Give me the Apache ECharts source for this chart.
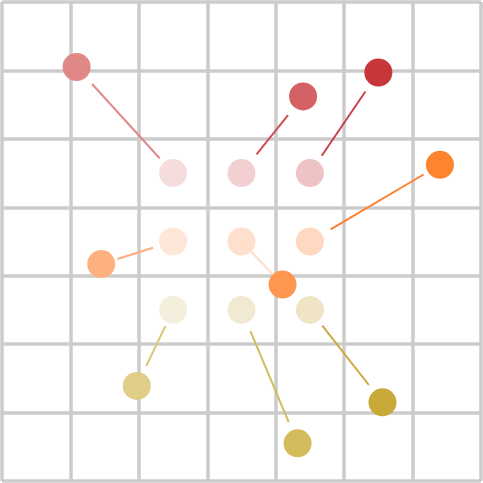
<!DOCTYPE html>
<html><head><meta charset="utf-8">
<script src="https://cdn.jsdelivr.net/npm/echarts@6/dist/echarts.min.js"></script>
<style>html,body{margin:0;padding:0;background:#fff}#c{width:483px;height:483px}</style>
</head><body><div id="c"></div>
<script>
// ---- data ----
const groups = ['red', 'orange', 'yellow'];
const originX = [2.5, 3.5, 4.5];          // column of each start point
const originY = [2.5, 3.5, 4.5];          // row of each group (from top)
const redTargetX = [1.09, 4.40, 5.50];
const redTargetY = [0.95, 1.38, 1.03];
const orangeTargetX = [1.45, 4.10, 6.40];
const orangeTargetY = [3.83, 4.13, 2.38];
const yellowTargetX = [1.97, 4.32, 5.56];
const yellowTargetY = [5.61, 6.45, 5.85];
const axisMin = 0, axisMax = 7, axisStep = 1;

// ---- styles ----
const originColors = [
  ['#f5dcdd', '#f2d0d1', '#eec3c5'],
  ['#fee6d9', '#fee0cd', '#fed8c0'],
  ['#f4eedc', '#f2e9d2', '#efe5c5']
];
const targetColors = [
  ['#e08788', '#d46264', '#c9363a'],
  ['#ffb07f', '#ff9650', '#ff8430'],
  ['#dfcd88', '#d4bc5c', '#c8aa38']
];
const lineColors = [
  ['#e08a8a', '#cc5052', '#c8434a'],
  ['#ffad7c', '#ffdcc4', '#ff8030'],
  ['#dcc676', '#d4bc5c', '#c8ab40']
];
const gapOrigin = [[20, 24, 21], [21, 8, 24], [18, 23, 20]];
const gapTarget = [[23, 24, 23], [17, 0, 19], [22, 23, 22]];

const targetsX = [redTargetX, orangeTargetX, yellowTargetX];
const targetsY = [redTargetY, orangeTargetY, yellowTargetY];

const originData = [], targetData = [], linkData = [];
groups.forEach((g, gi) => {
  originX.forEach((ox, ci) => {
    originData.push({ value: [ox, originY[gi]], itemStyle: { color: originColors[gi][ci] } });
    targetData.push({ value: [targetsX[gi][ci], targetsY[gi][ci]], itemStyle: { color: targetColors[gi][ci] } });
    linkData.push([ox, originY[gi], targetsX[gi][ci], targetsY[gi][ci], gi, ci]);
  });
});

const chart = echarts.init(document.getElementById('c'), null, { renderer: 'canvas' });
const axisCommon = {
  type: 'value', min: axisMin, max: axisMax, interval: axisStep,
  axisLabel: { show: false }, axisLine: { show: false }, axisTick: { show: false },
  splitLine: { show: true, lineStyle: { color: '#cccccc', width: 3.5 } }
};
chart.setOption({
  animation: false,
  grid: { left: 2, right: 2, top: 2, bottom: 2 },
  xAxis: Object.assign({}, axisCommon),
  yAxis: Object.assign({ inverse: true }, axisCommon),
  series: [
    {
      type: 'scatter', symbolSize: 28, z: 2,
      itemStyle: { opacity: 1 },
      data: originData
    },
    {
      type: 'custom', z: 3,
      encode: { x: [0, 2], y: [1, 3] },
      renderItem: function (params, api) {
        const p0 = api.coord([api.value(0), api.value(1)]);
        const p1 = api.coord([api.value(2), api.value(3)]);
        const gi = api.value(4), ci = api.value(5);
        const dx = p1[0] - p0[0], dy = p1[1] - p0[1];
        const len = Math.sqrt(dx * dx + dy * dy);
        const ux = dx / len, uy = dy / len;
        const a = gapOrigin[gi][ci], b = gapTarget[gi][ci];
        return {
          type: 'line',
          shape: { x1: p0[0] + ux * a, y1: p0[1] + uy * a, x2: p1[0] - ux * b, y2: p1[1] - uy * b },
          style: { stroke: lineColors[gi][ci], lineWidth: 2 }
        };
      },
      data: linkData
    },
    {
      type: 'scatter', symbolSize: 28, z: 4,
      itemStyle: { opacity: 1 },
      data: targetData
    }
  ]
});
</script>
</body></html>
